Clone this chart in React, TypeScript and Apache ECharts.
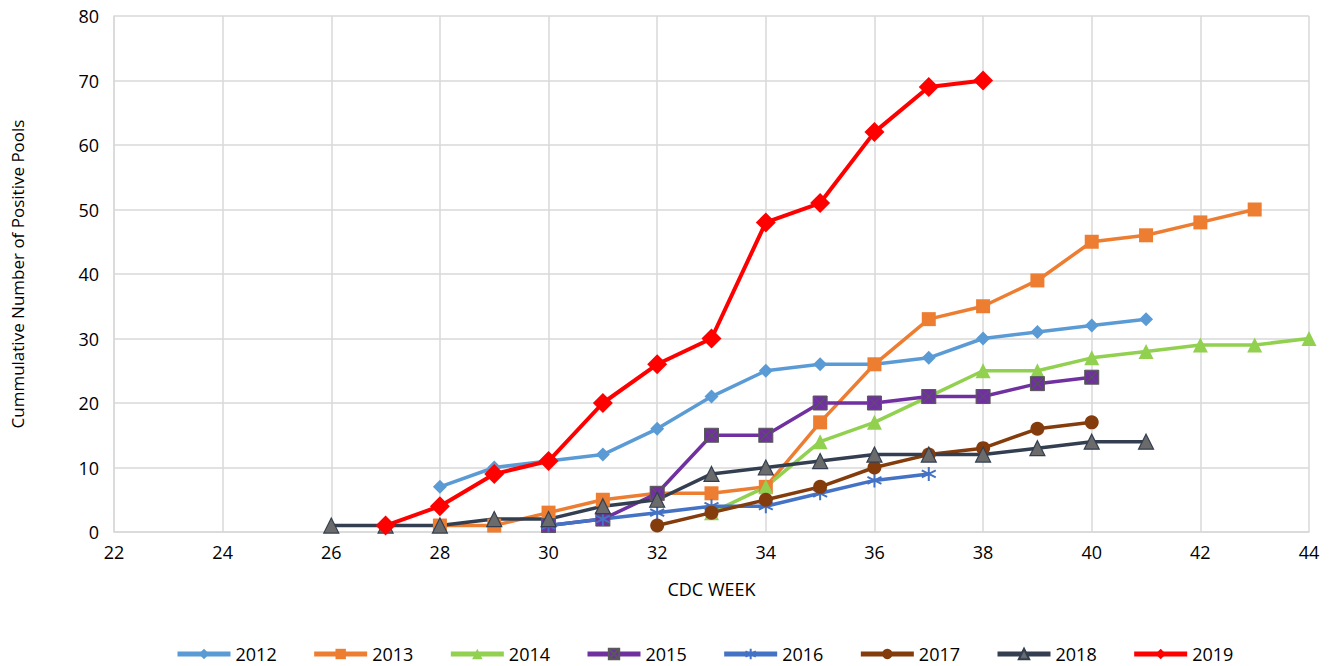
import React, { useEffect, useRef } from "react";
import * as echarts from "echarts";

const weeks2012 = [28, 29, 30, 31, 32, 33, 34, 35, 36, 37, 38, 39, 40, 41];
const vals2012 = [7, 10, 11, 12, 16, 21, 25, 26, 26, 27, 30, 31, 32, 33];
const weeks2013 = [28, 29, 30, 31, 32, 33, 34, 35, 36, 37, 38, 39, 40, 41, 42, 43];
const vals2013 = [1, 1, 3, 5, 6, 6, 7, 17, 26, 33, 35, 39, 45, 46, 48, 50];
const weeks2014 = [33, 34, 35, 36, 37, 38, 39, 40, 41, 42, 43, 44];
const vals2014 = [3, 7, 14, 17, 21, 25, 25, 27, 28, 29, 29, 30];
const weeks2015 = [30, 31, 32, 33, 34, 35, 36, 37, 38, 39, 40];
const vals2015 = [1, 2, 6, 15, 15, 20, 20, 21, 21, 23, 24];
const weeks2016 = [30, 31, 32, 33, 34, 35, 36, 37];
const vals2016 = [1, 2, 3, 4, 4, 6, 8, 9];
const weeks2017 = [32, 33, 34, 35, 36, 37, 38, 39, 40];
const vals2017 = [1, 3, 5, 7, 10, 12, 13, 16, 17];
const weeks2018 = [26, 27, 28, 29, 30, 31, 32, 33, 34, 35, 36, 37, 38, 39, 40, 41];
const vals2018 = [1, 1, 1, 2, 2, 4, 5, 9, 10, 11, 12, 12, 12, 13, 14, 14];
const weeks2019 = [27, 28, 29, 30, 31, 32, 33, 34, 35, 36, 37, 38];
const vals2019 = [1, 4, 9, 11, 20, 26, 30, 48, 51, 62, 69, 70];
const legendNames = ["2012", "2013", "2014", "2015", "2016", "2017", "2018", "2019"];

const pair = (w: number[], v: number[]) => w.map((x, i) => [x, v[i]]);

const FONT = "'Open Sans', 'Noto Sans', sans-serif";
const SQX = "path://M0,0 L10,0 L10,10 L0,10 Z M0,0 L10,10 M10,0 L0,10";
const AST = "path://M5,0 L5,10 M0.7,2.5 L9.3,7.5 M9.3,2.5 L0.7,7.5";

export default function App() {
  const ref = useRef<HTMLDivElement>(null);
  useEffect(() => {
    if (!ref.current) return;
    const chart = echarts.init(ref.current, undefined, { renderer: "svg" });
    const mk = (name: string, w: number[], v: number[], color: string, symbol: string, size: number, extra: any = {}) => ({
      name,
      type: "line",
      data: pair(w, v),
      symbol,
      symbolSize: size,
      lineStyle: { color: extra.lineColor || color, width: extra.lineWidth || 3.5 },
      itemStyle: {
        color: extra.fill || color,
        borderColor: extra.border || color,
        borderWidth: extra.borderWidth ?? 0,
      },
      z: extra.z || 2,
    });
    chart.setOption({
      animation: false,
      textStyle: { fontFamily: FONT },
      grid: { left: 114, right: 21, top: 16, bottom: 134 },
      xAxis: {
        type: "value",
        min: 22,
        max: 44,
        interval: 2,
        name: "CDC WEEK",
        nameLocation: "middle",
        nameGap: 48,
        nameTextStyle: { fontSize: 18, color: "#000", fontFamily: FONT },
        axisLine: { show: true, lineStyle: { color: "#d9d9d9", width: 1.5 } },
        axisTick: { show: false },
        axisLabel: { fontSize: 18, color: "#000", margin: 11, fontFamily: FONT },
        splitLine: { show: true, lineStyle: { color: "#d9d9d9", width: 1.5 } },
      },
      yAxis: {
        type: "value",
        min: 0,
        max: 80,
        interval: 10,
        name: "Cummulative Number of Positive Pools",
        nameLocation: "middle",
        nameGap: 88,
        nameTextStyle: { fontSize: 17, color: "#000", fontFamily: FONT },
        axisLine: { show: true, lineStyle: { color: "#d9d9d9", width: 1.5 } },
        axisTick: { show: false },
        axisLabel: { fontSize: 18, color: "#000", margin: 15, fontFamily: FONT },
        splitLine: { show: true, lineStyle: { color: "#d9d9d9", width: 1.5 } },
      },
      legend: {
        top: 644,
        left: 175,
        padding: 0,
        itemWidth: 53,
        itemHeight: 13,
        itemGap: 35,
        lineStyle: { width: 5 },
        textStyle: { fontSize: 18, lineHeight: 20, color: "#000", fontFamily: FONT },
        data: legendNames,
      },
      series: [
        mk("2012", weeks2012, vals2012, "#5B9BD5", "diamond", 14),
        mk("2013", weeks2013, vals2013, "#ED7D31", "rect", 14),
        mk("2014", weeks2014, vals2014, "#92D050", "triangle", 15),
        mk("2015", weeks2015, vals2015, "#7030A0", SQX, 14, { border: "#595959", borderWidth: 1 }),
        mk("2016", weeks2016, vals2016, "#4472C4", AST, 14, { fill: "none", border: "#4472C4", borderWidth: 2 }),
        mk("2017", weeks2017, vals2017, "#843C0C", "circle", 14),
        mk("2018", weeks2018, vals2018, "#333F50", "triangle", 15, { fill: "#6B6B6B", border: "#333F50", borderWidth: 1.2 }),
        mk("2019", weeks2019, vals2019, "#FF0000", "diamond", 20, { lineWidth: 4, z: 3 }),
      ],
    });
    return () => chart.dispose();
  }, []);
  return <div ref={ref} style={{ position: "absolute", left: 0, top: 0, width: 1330, height: 666 }} />;
}
